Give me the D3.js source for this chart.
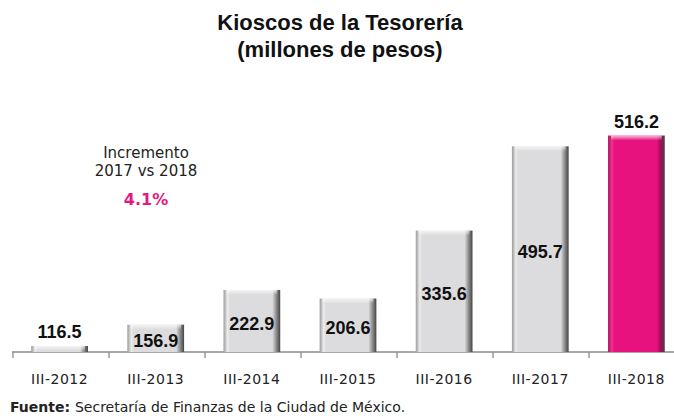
<!DOCTYPE html>
<html>
<head>
<meta charset="utf-8">
<script src="https://cdn.jsdelivr.net/npm/d3@7"></script>
<style>
  body { margin: 0; background: #fff; }
  svg { display: block; }
</style>
</head>
<body>
<div id="chart"></div>
<script>
// data
var periods = ['III-2012', 'III-2013', 'III-2014', 'III-2015', 'III-2016', 'III-2017', 'III-2018'];
var amounts = [116.5, 156.9, 222.9, 206.6, 335.6, 495.7, 516.2];
var titleLines = ['Kioscos de la Tesorería', '(millones de pesos)'];
var noteLines = ['Incremento', '2017 vs 2018'];
var noteValue = '4.1%';

var W = 674, H = 416;
var svg = d3.select('#chart').append('svg')
    .attr('width', W).attr('height', H);

var x = d3.scaleBand().domain(periods).range([12, 684]).paddingInner(0.41).paddingOuter(0.2);
var y = d3.scaleLinear().domain([105, 540]).range([352, 123]);

var defs = svg.append('defs');
function bevel(id, c0, c1, c2, c3) {
    var g = defs.append('linearGradient').attr('id', id)
        .attr('x1', 0).attr('x2', 1).attr('y1', 0).attr('y2', 0);
    g.append('stop').attr('offset', '0%').attr('stop-color', c0);
    g.append('stop').attr('offset', '7%').attr('stop-color', c1);
    g.append('stop').attr('offset', '11%').attr('stop-color', c2);
    g.append('stop').attr('offset', '86%').attr('stop-color', c2);
    g.append('stop').attr('offset', '93%').attr('stop-color', c3);
    g.append('stop').attr('offset', '100%').attr('stop-color', '#444');
}
bevel('gGrey', '#9a9a9a', '#ececec', '#dcdcde', '#8e8e8e');
bevel('gPink', '#b0105f', '#f0338f', '#e8127f', '#a00c58');
var tg = defs.append('linearGradient').attr('id', 'gTop')
    .attr('x1', 0).attr('x2', 0).attr('y1', 0).attr('y2', 1);
tg.append('stop').attr('offset', '0%').attr('stop-color', '#fff').attr('stop-opacity', 0.7);
tg.append('stop').attr('offset', '100%').attr('stop-color', '#fff').attr('stop-opacity', 0);

// title
svg.selectAll('.title').data(titleLines).enter().append('text')
    .attr('class', 'title')
    .attr('x', 340).attr('y', function(d, i) { return 30 + i * 27; })
    .attr('text-anchor', 'middle')
    .style('font-family', 'Liberation Sans, Arial, sans-serif')
    .style('font-weight', 'bold').style('font-size', '22px')
    .attr('fill', '#111')
    .text(function(d) { return d; });

// axis
var axis = d3.axisBottom(x).tickSize(0).tickFormat('');
svg.append('g').attr('transform', 'translate(0,352)').call(axis)
    .call(function(g) { g.select('.domain').attr('stroke', '#8c8c8c').attr('stroke-width', 1.3).attr('d', 'M12,0H684'); });
svg.selectAll('.sep').data(d3.range(periods.length + 1)).enter().append('line')
    .attr('x1', function(i) { return 12 + i * (672 / periods.length) + 1; })
    .attr('x2', function(i) { return 12 + i * (672 / periods.length) + 1; })
    .attr('y1', 352).attr('y2', 358)
    .attr('stroke', '#8c8c8c').attr('stroke-width', 1.3);

svg.selectAll('.xl').data(periods).enter().append('text')
    .attr('x', function(d) { return x(d) + x.bandwidth() / 2; })
    .attr('y', 384)
    .attr('text-anchor', 'middle')
    .style('font-family', 'DejaVu Sans, sans-serif').style('font-size', '14px')
    .style('letter-spacing', '0.5px')
    .attr('fill', '#222')
    .text(function(d) { return d; });

// bars
var last = periods.length - 1;
var bars = svg.selectAll('.bar').data(amounts).enter().append('g');
bars.append('rect')
    .attr('x', function(d, i) { return x(periods[i]); })
    .attr('y', function(d) { return y(d); })
    .attr('width', x.bandwidth())
    .attr('height', function(d) { return 352 - y(d); })
    .attr('fill', function(d, i) { return i === last ? 'url(#gPink)' : 'url(#gGrey)'; });
bars.append('rect')
    .attr('x', function(d, i) { return x(periods[i]) + 3; })
    .attr('y', function(d) { return y(d); })
    .attr('width', x.bandwidth() - 6)
    .attr('height', function(d) { return Math.min(5, 352 - y(d)); })
    .attr('fill', 'url(#gTop)');

bars.append('text')
    .attr('x', function(d, i) { return x(periods[i]) + x.bandwidth() / 2; })
    .attr('y', function(d, i) {
        var h = 352 - y(d);
        if (i === last || h < 20) return y(d) - 8;
        return y(d) + h / 2 + 9;
    })
    .attr('text-anchor', 'middle')
    .style('font-family', 'Liberation Sans, Arial, sans-serif')
    .style('font-weight', 'bold').style('font-size', '18px')
    .attr('fill', '#111')
    .text(function(d) { return d3.format('.1f')(d); });

// note
svg.selectAll('.note').data(noteLines).enter().append('text')
    .attr('x', 146).attr('y', function(d, i) { return 158 + i * 18; })
    .attr('text-anchor', 'middle')
    .style('font-family', 'DejaVu Sans, sans-serif').style('font-size', '15px')
    .attr('fill', '#222')
    .text(function(d) { return d; });
svg.append('text')
    .attr('x', 146).attr('y', 205)
    .attr('text-anchor', 'middle')
    .style('font-family', 'DejaVu Sans, sans-serif').style('font-weight', 'bold').style('font-size', '16px')
    .attr('fill', '#e3197f')
    .text(noteValue);

// source
var src = svg.append('text').attr('x', 10).attr('y', 412)
    .style('font-family', 'DejaVu Sans, sans-serif').style('font-size', '14px')
    .attr('fill', '#222');
src.append('tspan').style('font-weight', 'bold').text('Fuente: ');
src.append('tspan').text('Secretaría de Finanzas de la Ciudad de México.');
</script>
</body>
</html>
